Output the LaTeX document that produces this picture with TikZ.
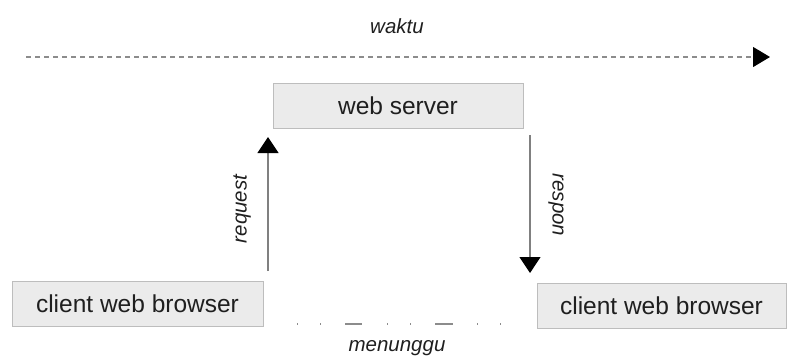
\documentclass[tikz,border=0pt]{standalone}
\usepackage{fontspec}
\setmainfont{Liberation Sans}
\usetikzlibrary{arrows.meta}
\definecolor{boxfill}{HTML}{EBEBEB}
\definecolor{boxline}{HTML}{BDBDBD}
\definecolor{lineg}{HTML}{808080}
\definecolor{dashg}{HTML}{8C8C8C}
\tikzset{
  box/.style={draw=boxline, line width=1pt, fill=boxfill, minimum height=45pt, inner sep=0pt, font=\fontsize{24.5}{26}\selectfont, text=black!88},
  lbl/.style={font=\fontsize{20.5}{22}\selectfont\itshape, text=black!88, inner sep=0pt},
  tip/.style={-{Triangle[length=16pt,width=21pt,color=black]}},
}
\begin{document}
\begin{tikzpicture}[x=1pt,y=-1pt]
\useasboundingbox (0,0) rectangle (787,360);
\node[lbl] (waktu) at (397,26) {waktu};
\coordinate (t0) at (26,57);
\coordinate (t1) at (770,57);
\draw[dashg, line width=1.1pt, dash pattern=on 5pt off 4pt, -{Triangle[length=17pt,width=20pt,color=black]}] (t0) -- (t1);
\node[box, minimum width=250pt] (server) at (398,105.5) {web server};
\node[box, minimum width=251pt] (cl) at (137.5,303.5) {client web browser};
\node[box, minimum width=249pt] (cr) at (661.5,305.5) {client web browser};
\coordinate (rq0) at (268,271);
\coordinate (rq1) at (268,137);
\draw[lineg, line width=1.2pt, tip] (rq0) -- (rq1);
\node[lbl, rotate=90] (request) at (242,209) {request};
\coordinate (rs0) at (530,135);
\coordinate (rs1) at (530,273);
\draw[lineg, line width=1.2pt, tip] (rs0) -- (rs1);
\node[lbl, rotate=-90] (respon) at (556,205) {respon};
\coordinate (w0) at (297,324);
\coordinate (w1) at (501,324);
\draw[dashg, line width=1.1pt, dash pattern=on 1pt off 22pt on 1pt off 24pt on 17pt off 25pt on 1pt off 22pt on 1pt off 24pt on 18pt off 24pt on 1pt off 22pt on 1pt off 100pt] (w0) -- (w1);
\node[lbl] (menunggu) at (397,348) {menunggu};
\end{tikzpicture}
\end{document}
